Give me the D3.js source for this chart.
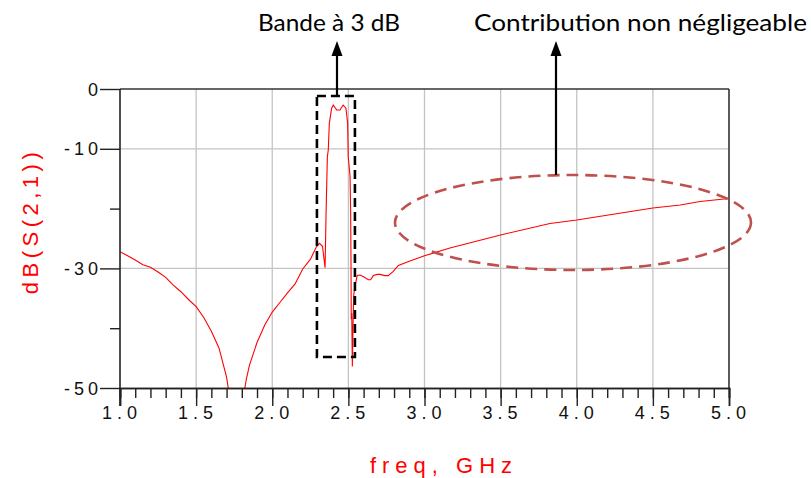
<!DOCTYPE html>
<html><head><meta charset="utf-8">
<script src="https://cdn.jsdelivr.net/npm/d3@7"></script>
<style>
html,body{margin:0;padding:0;background:#fff;}
svg{display:block;}
</style></head>
<body>
<svg id="c" width="811" height="478"></svg>
<script>
// ---- data ----
const freq = [1.0,1.05,1.1,1.15,1.2,1.25,1.3,1.35,1.4,1.45,1.5,1.55,1.6,1.65,1.7,1.72,1.76,1.81,1.83,1.85,1.9,1.95,2.0,2.05,2.1,2.15,2.2,2.25,2.29,2.31,2.33,2.347,2.353,2.362,2.368,2.375,2.39,2.401,2.412,2.423,2.445,2.455,2.466,2.484,2.495,2.499,2.511,2.515,2.517,2.519,2.522,2.526,2.53,2.535,2.543,2.558,2.576,2.6,2.631,2.646,2.664,2.69,2.708,2.74,2.762,2.795,2.828,2.9,3.0,3.167,3.5,3.824,4.0,4.25,4.5,4.68,4.81,5.0];
const s21dB = [-27.2,-27.9,-28.6,-29.4,-29.8,-30.6,-31.5,-32.8,-33.9,-35.2,-36.4,-38.2,-40.5,-43.3,-48.2,-51.5,-60,-51.5,-48.5,-46.2,-42.4,-39.5,-37.3,-35.7,-34.1,-32.6,-30.1,-28.5,-26.4,-25.8,-26.3,-29.9,-21.3,-11.3,-10.2,-5.7,-3.2,-2.7,-3.1,-3.5,-3.5,-3.1,-2.7,-3.2,-5.7,-11.3,-14.6,-20.7,-28,-38.5,-37.5,-46.4,-40,-34.5,-33,-31.2,-31.1,-31.4,-31.9,-31.9,-31.2,-31.0,-31.0,-31.2,-31.2,-30.5,-29.5,-28.8,-27.9,-26.6,-24.4,-22.5,-21.9,-20.9,-19.9,-19.4,-18.8,-18.3];
const xMajorTicks = [1.0,1.5,2.0,2.5,3.0,3.5,4.0,4.5,5.0];
const xMinorTicks = d3.range(10,51).map(d=>d/10);
const yTicks = [0,-10,-20,-30,-40,-50];
const yLabelled = [0,-10,-30,-50];
const xTitle = "freq, GHz";
const yTitle = "dB(S(2,1))";
const noteBand = "Bande à 3 dB";
const noteContrib = "Contribution non négligeable";

const svg = d3.select("#c");
const L=120, R=729, T=89, B=388;
const x = d3.scaleLinear().domain([1,5]).range([L,R]);
const y = d3.scaleLinear().domain([-50,0]).range([B,T]);

// grid
const g = svg.append("g");
g.selectAll("line.vg").data(xMajorTicks.slice(1,-1)).join("line")
  .attr("x1",d=>x(d)).attr("x2",d=>x(d)).attr("y1",T).attr("y2",B)
  .attr("stroke","#c4c4c4").attr("stroke-width",1.3);
g.selectAll("line.hg").data([-10,-30]).join("line")
  .attr("x1",L).attr("x2",R).attr("y1",d=>y(d)).attr("y2",d=>y(d))
  .attr("stroke","#c4c4c4").attr("stroke-width",1.3);

// frame top & right
svg.append("line").attr("x1",L).attr("x2",R).attr("y1",T).attr("y2",T).attr("stroke","#333").attr("stroke-width",1.6);
svg.append("line").attr("x1",R).attr("x2",R).attr("y1",T).attr("y2",B).attr("stroke","#333").attr("stroke-width",1.6);

// curve
svg.append("clipPath").attr("id","clip").append("rect").attr("x",L).attr("y",T-2).attr("width",R-L).attr("height",B-T+2);
const line = d3.line().x((d,i)=>x(freq[i])).y(d=>y(d));
svg.append("path").datum(s21dB).attr("d",line).attr("clip-path","url(#clip)")
  .attr("fill","none").attr("stroke","#ff0000").attr("stroke-width",1.1);

// x axis
const axX = svg.append("g").attr("transform",`translate(0,${B})`);
axX.call(d3.axisBottom(x).tickValues(xMinorTicks).tickSize(10).tickFormat(""));
axX.append("g").call(d3.axisBottom(x).tickValues(xMajorTicks).tickSize(18).tickFormat(""));
axX.selectAll("path.domain").attr("stroke","#222").attr("stroke-width",1.6);
axX.selectAll(".tick line").attr("stroke","#222").attr("stroke-width",1.4);
axX.selectAll("text.lbl").data(xMajorTicks).join("text").attr("class","lbl")
  .attr("x",d=>x(d)+2).attr("y",31).attr("text-anchor","middle")
  .attr("font-family","Liberation Sans, Arial, sans-serif").attr("font-size",18)
  .attr("letter-spacing","5px").attr("fill","#111").text(d=>d.toFixed(1));

// y axis
const axY = svg.append("g").attr("transform",`translate(${L},0)`);
axY.call(d3.axisLeft(y).tickValues(yTicks).tickSize(10).tickFormat(""));
axY.selectAll(".tick line").attr("x2",d=>yLabelled.includes(d)?-20:-10);
axY.selectAll("path.domain").remove();
axY.append("line").attr("x1",0).attr("x2",0).attr("y1",T).attr("y2",B+18).attr("stroke","#222").attr("stroke-width",1.6);
axY.selectAll(".tick line").attr("stroke","#222").attr("stroke-width",1.4);
axY.selectAll("text.lbl").data(yLabelled).join("text").attr("class","lbl")
  .attr("x",-18).attr("y",d=>y(d)+6.5).attr("text-anchor","end")
  .attr("font-family","Liberation Sans, Arial, sans-serif").attr("font-size",18)
  .attr("letter-spacing","4px").attr("fill","#111").text(d=>d===0?"0":String(d));

// titles
svg.append("text").attr("x",444).attr("y",473).attr("text-anchor","middle")
  .attr("font-family","Liberation Sans, Arial, sans-serif").attr("font-size",22)
  .attr("letter-spacing","6px").attr("fill","#ff0000").text(xTitle);
svg.append("text").attr("transform","translate(38,221) rotate(-90)").attr("text-anchor","middle")
  .attr("font-family","Liberation Sans, Arial, sans-serif").attr("font-size",22)
  .attr("letter-spacing","4.5px").attr("fill","#ff0000").text(yTitle);

// annotations
svg.append("rect").attr("x",x(2.3)-1).attr("y",96).attr("width",38).attr("height",261)
  .attr("fill","none").attr("stroke","#000").attr("stroke-width",2.6).attr("stroke-dasharray","9,5");
svg.append("ellipse").attr("cx",573).attr("cy",222.5).attr("rx",178).attr("ry",47.5)
  .attr("fill","none").attr("stroke","#c0504d").attr("stroke-width",2.6).attr("stroke-dasharray","12,7");

function arrow(xp, yTip, yEnd){
  svg.append("line").attr("x1",xp).attr("x2",xp).attr("y1",yTip+10).attr("y2",yEnd).attr("stroke","#000").attr("stroke-width",2.2);
  svg.append("path").attr("d",`M${xp},${yTip} L${xp-5.5},${yTip+15} L${xp+5.5},${yTip+15} Z`).attr("fill","#000");
}
arrow(337, 41, 96);
arrow(556, 41, 175);

svg.append("text").attr("x",258).attr("y",31)
  .attr("font-family","Lato, Open Sans, sans-serif").attr("font-size",24).attr("fill","#000")
  .attr("textLength",142).attr("lengthAdjust","spacingAndGlyphs").text(noteBand);
svg.append("text").attr("x",474).attr("y",31)
  .attr("font-family","Lato, Open Sans, sans-serif").attr("font-size",24).attr("fill","#000")
  .attr("textLength",333).attr("lengthAdjust","spacingAndGlyphs").text(noteContrib);
</script>
</body></html>
